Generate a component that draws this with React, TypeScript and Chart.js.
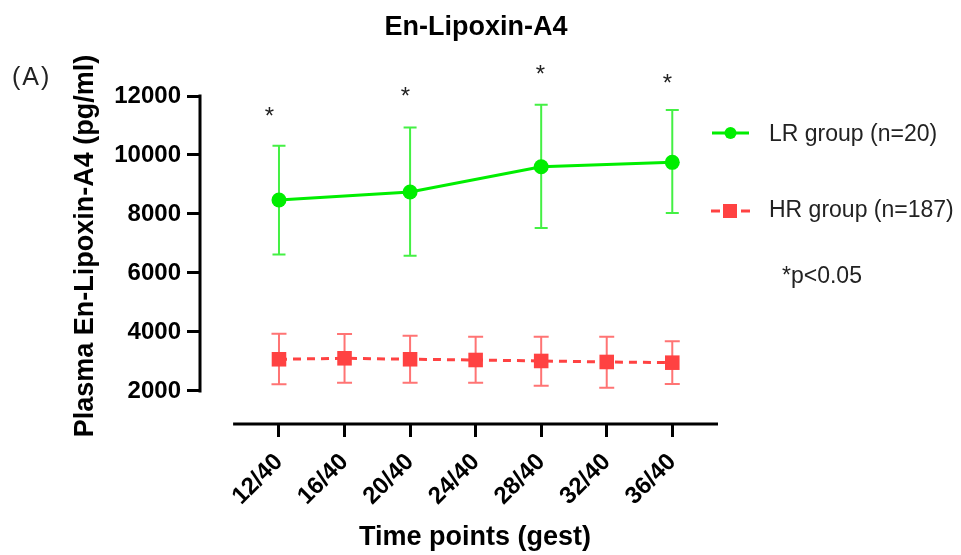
import React, { useEffect, useRef } from 'react';
import { Chart, registerables } from 'chart.js';

Chart.register(...registerables);

// ---- data ----
const weeks = [12, 16, 20, 24, 28, 32, 36];
const xTickLabels = ['12/40', '16/40', '20/40', '24/40', '28/40', '32/40', '36/40'];
const yTicks = [2000, 4000, 6000, 8000, 10000, 12000];

const lrMean = [8475, null, 8745, null, 9600, null, 9750];
const lrUpper = [10310, null, 10930, null, 11700, null, 11525];
const lrLower = [6630, null, 6580, null, 7525, null, 8030];

const hrMean = [3075, 3108, 3075, 3050, 3017, 2983, 2959];
const hrUpper = [3942, 3932, 3875, 3840, 3840, 3840, 3685];
const hrLower = [2227, 2281, 2281, 2281, 2180, 2112, 2237];

const sigX = [11.4, 19.7, 27.95, 35.7];
const sigY = [11480, 12140, 12900, 12590];

const titleText = 'En-Lipoxin-A4';
const panelText = '(A)';
const yTitle = 'Plasma En-Lipoxin-A4 (pg/ml)';
const xTitle = 'Time points (gest)';
const lrLabel = 'LR group (n=20)';
const hrLabel = 'HR group (n=187)';
const noteText = '*p<0.05';

// ---- style ----
const GREEN = '#00ee00';
const GREEN_ERR = '#44f044';
const RED = '#ff4242';
const RED_ERR = '#ff7474';
const FONT = '"Liberation Sans", Arial, Helvetica, sans-serif';
const X_AXIS_START = 9.2;

function toPoints(vals: (number | null)[]) {
  return weeks
    .map((w, i) => ({ x: w, y: vals[i] }))
    .filter((p) => p.y !== null) as { x: number; y: number }[];
}

const decorPlugin = {
  id: 'decor',
  beforeDatasetsDraw(chart: any) {
    const ctx = chart.ctx as CanvasRenderingContext2D;
    const xs = chart.scales.x;
    const ys = chart.scales.y;
    const area = chart.chartArea;
    ctx.save();
    // axis lines
    ctx.strokeStyle = '#000';
    ctx.lineWidth = 3;
    ctx.lineCap = 'butt';
    const yx = Math.round(area.left);
    ctx.beginPath();
    ctx.moveTo(yx, ys.getPixelForValue(12000) - 1.5);
    ctx.lineTo(yx, ys.getPixelForValue(2000) + 1.5);
    ctx.stroke();
    const xy = Math.round(area.bottom);
    ctx.beginPath();
    ctx.moveTo(xs.getPixelForValue(X_AXIS_START), xy);
    ctx.lineTo(area.right, xy);
    ctx.stroke();

    // error bars
    const drawErr = (up: (number | null)[], lo: (number | null)[], color: string, cap: number) => {
      ctx.strokeStyle = color;
      ctx.lineWidth = 2;
      weeks.forEach((w, i) => {
        const u = up[i];
        const l = lo[i];
        if (u === null || l === null) return;
        const px = xs.getPixelForValue(w);
        const pu = ys.getPixelForValue(u);
        const pl = ys.getPixelForValue(l);
        ctx.beginPath();
        ctx.moveTo(px, pu);
        ctx.lineTo(px, pl);
        ctx.moveTo(px - cap, pu);
        ctx.lineTo(px + cap, pu);
        ctx.moveTo(px - cap, pl);
        ctx.lineTo(px + cap, pl);
        ctx.stroke();
      });
    };
    drawErr(lrUpper, lrLower, GREEN_ERR, 6.5);
    drawErr(hrUpper, hrLower, RED_ERR, 7.5);
    ctx.restore();
  },
  afterDraw(chart: any) {
    const ctx = chart.ctx as CanvasRenderingContext2D;
    const xs = chart.scales.x;
    const ys = chart.scales.y;
    ctx.save();
    ctx.fillStyle = '#000';
    // title
    ctx.font = `bold 27px ${FONT}`;
    ctx.textAlign = 'center';
    ctx.textBaseline = 'alphabetic';
    ctx.fillText(titleText, 476, 35);
    // x title
    ctx.fillText(xTitle, 475, 545);
    // y title
    ctx.save();
    ctx.translate(93, 246);
    ctx.rotate(-Math.PI / 2);
    ctx.fillText(yTitle, 0, 0);
    ctx.restore();
    // panel label
    ctx.font = `25px ${FONT}`;
    ctx.textAlign = 'left';
    ctx.fillStyle = '#222';
    (ctx as any).letterSpacing = '2px';
    ctx.fillText(panelText, 12, 85);
    (ctx as any).letterSpacing = '0px';

    // asterisks
    ctx.font = `24px ${FONT}`;
    ctx.textAlign = 'left';
    const m = ctx.measureText('*');
    const asc = m.actualBoundingBoxAscent;
    const desc = m.actualBoundingBoxDescent;
    const lft = m.actualBoundingBoxLeft;
    const rgt = m.actualBoundingBoxRight;
    sigX.forEach((sx, i) => {
      const cx = xs.getPixelForValue(sx);
      const cy = ys.getPixelForValue(sigY[i]);
      ctx.fillText('*', cx - (rgt - lft) / 2, cy + (asc - desc) / 2);
    });

    // legend
    ctx.lineWidth = 3;
    ctx.strokeStyle = GREEN;
    ctx.setLineDash([]);
    ctx.beginPath();
    ctx.moveTo(712, 133);
    ctx.lineTo(749, 133);
    ctx.stroke();
    ctx.fillStyle = GREEN;
    ctx.beginPath();
    ctx.arc(730.5, 133, 6, 0, Math.PI * 2);
    ctx.fill();

    ctx.strokeStyle = RED;
    ctx.setLineDash([9, 6]);
    ctx.beginPath();
    ctx.moveTo(711, 211);
    ctx.lineTo(750, 211);
    ctx.stroke();
    ctx.setLineDash([]);
    ctx.fillStyle = RED;
    ctx.fillRect(723, 204, 14, 14);

    ctx.fillStyle = '#222';
    ctx.font = `23px ${FONT}`;
    ctx.textAlign = 'left';
    ctx.fillText(lrLabel, 769, 140.5);
    ctx.fillText(hrLabel, 769, 217);
    ctx.fillText(noteText, 782, 283);
    ctx.restore();
  },
};

export default function App() {
  const ref = useRef<HTMLCanvasElement | null>(null);

  useEffect(() => {
    if (!ref.current) return;
    const chart = new Chart(ref.current, {
      type: 'line',
      data: {
        datasets: [
          {
            label: lrLabel,
            data: toPoints(lrMean),
            borderColor: GREEN,
            backgroundColor: GREEN,
            borderWidth: 3,
            pointStyle: 'circle',
            pointRadius: 7.5,
            pointBorderWidth: 0,
            spanGaps: true,
            tension: 0,
          },
          {
            label: hrLabel,
            data: toPoints(hrMean),
            borderColor: RED,
            backgroundColor: RED,
            borderWidth: 3,
            borderDash: [8, 6],
            pointStyle: 'rect',
            pointRadius: 10.3,
            pointBorderWidth: 0,
            tension: 0,
          },
        ],
      },
      options: {
        animation: false,
        responsive: true,
        maintainAspectRatio: false,
        layout: { padding: { top: 96, left: 0, right: 243, bottom: 0 } },
        plugins: {
          legend: { display: false },
          title: { display: false },
          tooltip: { enabled: false },
        },
        scales: {
          x: {
            type: 'linear',
            min: 7.18,
            max: 38.79,
            afterBuildTicks: (s: any) => {
              s.ticks = weeks.map((v) => ({ value: v }));
            },
            afterFit: (s: any) => {
              s.height = 131;
            },
            ticks: {
              autoSkip: false,
              minRotation: 45,
              maxRotation: 45,
              padding: 11,
              color: '#000',
              font: { family: FONT, size: 24, weight: 'bold' },
              callback: (v: any) => {
                const i = weeks.indexOf(Number(v));
                return i >= 0 ? xTickLabels[i] : '';
              },
            },
            grid: {
              display: true,
              drawOnChartArea: false,
              drawTicks: true,
              tickLength: 13,
              lineWidth: 3,
              color: '#000',
            },
            border: { display: false },
          },
          y: {
            type: 'linear',
            min: 880,
            max: 12000,
            afterBuildTicks: (s: any) => {
              s.ticks = yTicks.map((v) => ({ value: v }));
            },
            afterFit: (s: any) => {
              s.width = 200;
            },
            ticks: {
              padding: 6,
              color: '#000',
              font: { family: FONT, size: 24, weight: 'bold' },
              callback: (v: any) => String(v),
            },
            grid: {
              display: true,
              drawOnChartArea: false,
              drawTicks: true,
              tickLength: 13,
              lineWidth: 3,
              color: '#000',
            },
            border: { display: false },
          },
        },
      },
      plugins: [decorPlugin],
    });
    return () => chart.destroy();
  }, []);

  return (
    <div style={{ position: 'fixed', left: 0, top: 0, width: 961, height: 555, background: '#fff' }}>
      <canvas ref={ref} />
    </div>
  );
}
